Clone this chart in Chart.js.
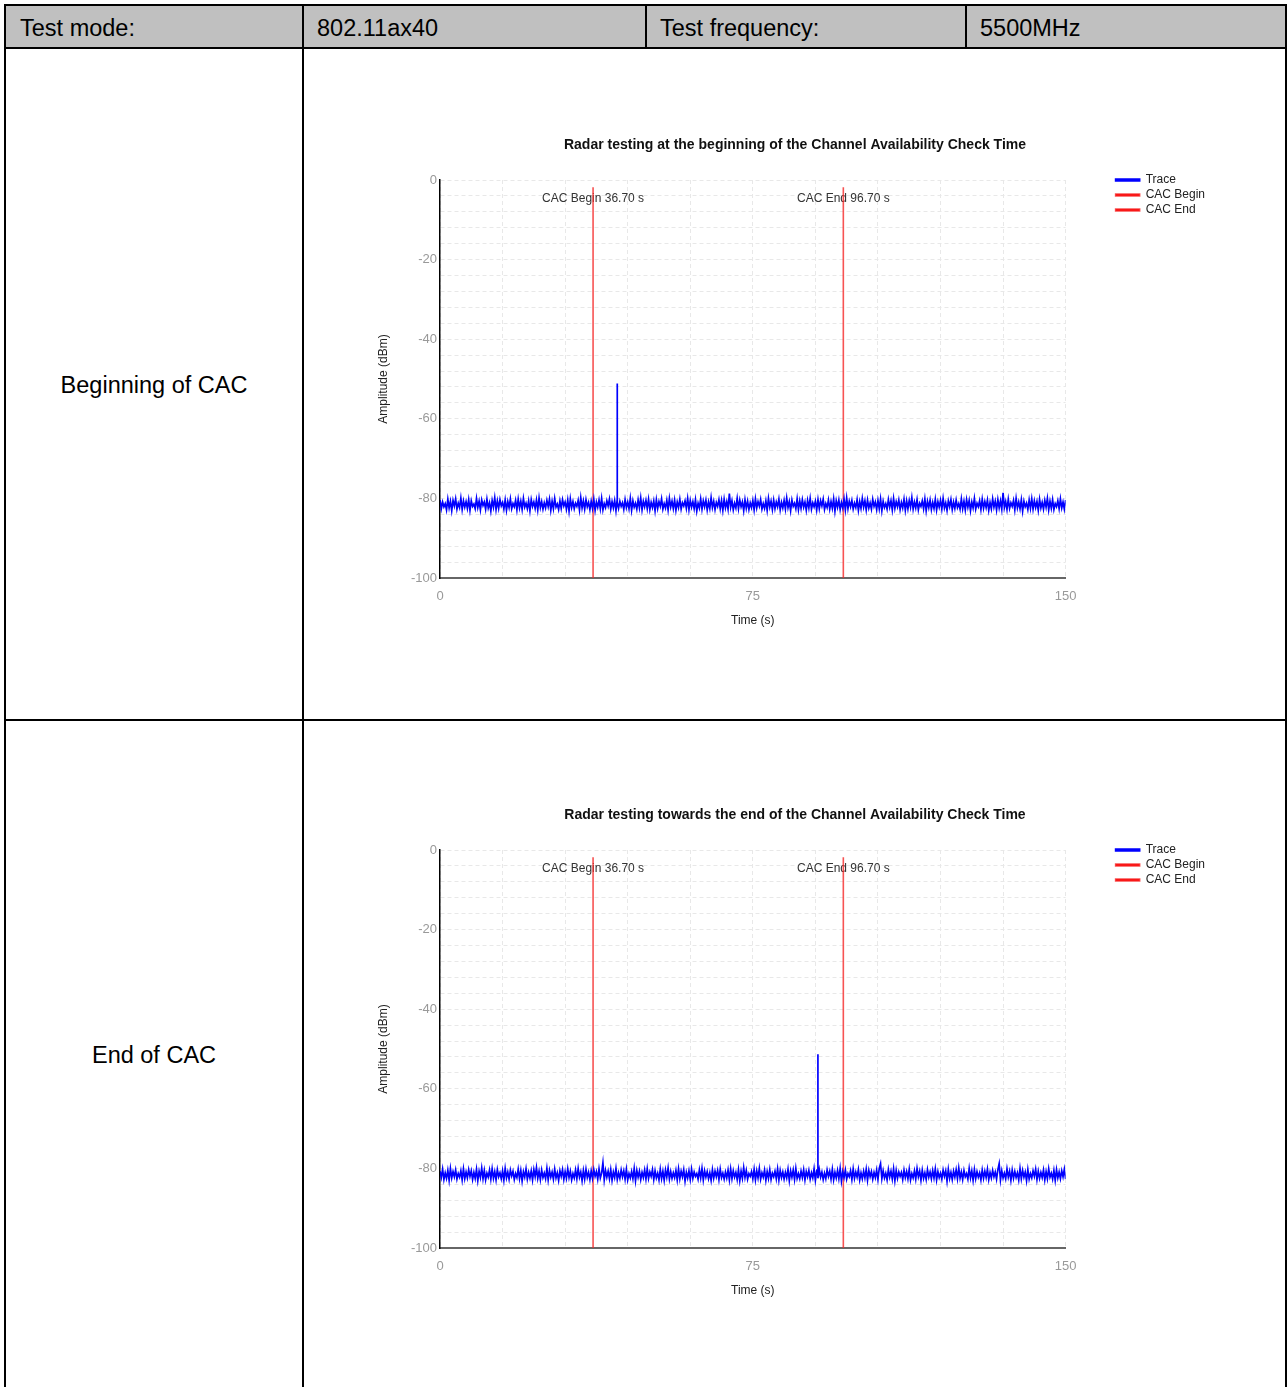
<!DOCTYPE html>
<html lang="en">
<head>
<meta charset="UTF-8">
<script src="https://cdn.jsdelivr.net/npm/chart.js"></script>
<title>CAC radar test</title>
<style>
  html, body { margin: 0; padding: 0; background: #fff; overflow: hidden; }
  body { width: 1287px; height: 1387px; position: relative; font-family: "Liberation Sans", Arial, sans-serif; }
  .hdr { position: absolute; left: 5px; top: 5px; width: 1281px; height: 43px; background: #c0c0c0; }
  .ln { position: absolute; background: #000; }
  .txt { position: absolute; font-size: 23.5px; color: #000; line-height: 28px; white-space: nowrap; }
  .lbl { position: absolute; left: 6px; width: 296px; text-align: center; font-size: 23.5px; line-height: 28px; }
  canvas { position: absolute; left: 305px; }
</style>
</head>
<body>
<div class="hdr"></div>

<canvas id="chartBegin" width="980" height="670" style="top:50px"></canvas>
<canvas id="chartEnd" width="980" height="670" style="top:720px"></canvas>

<!-- table lines -->
<div class="ln" style="left:4px;top:4px;width:1283px;height:2px"></div>
<div class="ln" style="left:4px;top:47px;width:1283px;height:2px"></div>
<div class="ln" style="left:4px;top:719px;width:1283px;height:2px"></div>
<div class="ln" style="left:4px;top:4px;width:2px;height:1400px"></div>
<div class="ln" style="left:302px;top:4px;width:2px;height:1400px"></div>
<div class="ln" style="left:1285px;top:4px;width:2px;height:1400px"></div>
<div class="ln" style="left:645px;top:4px;width:2px;height:45px"></div>
<div class="ln" style="left:965px;top:4px;width:2px;height:45px"></div>

<div class="txt" style="left:20px;top:14px">Test mode:</div>
<div class="txt" style="left:317px;top:14px">802.11ax40</div>
<div class="txt" style="left:660px;top:14px">Test frequency:</div>
<div class="txt" style="left:980px;top:14px">5500MHz</div>

<div class="lbl" style="top:371px">Beginning of CAC</div>
<div class="lbl" style="top:1041px">End of CAC</div>

<script>
// CAC window markers
const cacNames = ['CAC Begin', 'CAC End'];
const cacTimes = [36.70, 96.70];
const cacLineTop = -1.8;

// trace sampling
const traceStep = 0.3125; // seconds between samples
const spikeBase = -81;

// radar burst seen in each run
const spikeTimeBegin = 42.5, spikePeakBegin = -51.1;
const spikeTimeEnd = 90.6, spikePeakEnd = -51.3;

// noise floor (dBm)
const noiseBegin = [
  -80.4,-82.6,-80.9,-82.1,-81.3,-82.9,-80.2,-82.4,-80.7,-83.1,-80.5,-81.9,-80.1,-82.7,-81.2,-82.3,-79.9,-82.8,-80.6,-82.2,
  -80.8,-82.5,-80.3,-83.0,-80.6,-82.0,-81.4,-82.6,-80.0,-82.3,-80.7,-82.9,-80.4,-81.8,-80.9,-82.7,-80.2,-82.4,-81.1,-83.2,
  -80.5,-82.2,-79.8,-82.8,-80.6,-82.5,-80.3,-81.9,-81.0,-82.7,-80.4,-83.0,-80.8,-82.3,-80.1,-82.6,-81.3,-82.1,-80.5,-82.9,
  -80.2,-82.4,-80.7,-82.8,-80.0,-82.2,-81.2,-82.6,-80.6,-83.1,-80.3,-82.0,-80.9,-82.5,-80.4,-82.9,-79.9,-82.3,-80.8,-82.7,
  -81.1,-82.4,-80.5,-82.1,-80.2,-83.0,-80.7,-82.6,-80.0,-82.2,-81.4,-82.8,-80.6,-82.5,-80.3,-81.9,-80.9,-82.7,-80.4,-83.2,
  -80.1,-82.3,-80.8,-82.6,-81.2,-82.0,-80.5,-82.9,-79.8,-82.4,-80.6,-82.7,-80.3,-82.1,-81.0,-82.8,-80.7,-82.5,-80.2,-83.0,
  -80.9,-82.2,-80.4,-82.6,-80.0,-82.9,-81.3,-82.3,-80.6,-81.9,-80.2,-82.7,-80.8,-82.4,-80.5,-83.1,-80.1,-82.5,-80.7,-82.0,
  -81.1,-82.8,-80.3,-82.3,-80.9,-82.6,-80.0,-83.0,-80.6,-82.2,-81.2,-82.7,-80.4,-82.4,-79.9,-82.9,-80.7,-82.1,-80.5,-82.6,
  -80.2,-82.8,-81.0,-82.3,-80.6,-83.1,-80.3,-82.5,-80.8,-82.0,-80.1,-82.7,-81.3,-82.4,-80.5,-82.9,-80.0,-82.2,-80.7,-82.6,
  -80.4,-83.0,-80.9,-82.3,-80.2,-82.7,-81.1,-81.9,-80.6,-82.5,-80.0,-82.8,-80.5,-82.2,-80.8,-82.6,-80.3,-83.2,-81.2,-82.4,
  -80.1,-82.7,-80.6,-82.1,-80.4,-82.9,-80.9,-82.5,-79.8,-82.3,-80.7,-82.8,-81.0,-82.0,-80.3,-82.6,-80.5,-83.0,-80.2,-82.4,
  -80.8,-82.7,-78.8,-82.2,-80.6,-82.9,-81.2,-82.4,-80.0,-82.6,-80.4,-82.1,-80.9,-83.1,-80.3,-82.5,-80.7,-82.8,-81.1,-82.3,
  -80.5,-82.9,-80.1,-82.4,-80.8,-82.0,-80.3,-82.7,-81.3,-82.5,-80.6,-83.0,-80.0,-82.2,-80.7,-82.8,-80.4,-82.6,-80.9,-82.1,
  -80.2,-82.9,-81.0,-82.4,-80.5,-82.7,-79.9,-82.3,-80.8,-83.1,-80.4,-82.0,-81.2,-82.6,-80.1,-82.8,-80.6,-82.5,-80.3,-82.2,
  -80.9,-83.0,-80.5,-82.4,-80.0,-82.7,-81.1,-82.1,-80.7,-82.9,-80.3,-82.6,-80.6,-81.9,-80.2,-82.8,-81.3,-82.3,-80.4,-82.7,
  -80.8,-82.5,-80.1,-83.2,-80.6,-82.2,-80.4,-82.8,-81.0,-82.4,-80.2,-82.9,-79.9,-82.6,-80.7,-82.1,-80.5,-82.7,-81.2,-82.3,
  -80.3,-83.0,-80.8,-82.5,-80.0,-82.2,-80.6,-82.9,-80.4,-82.4,-81.1,-82.7,-80.2,-82.0,-80.9,-82.8,-80.5,-82.6,-80.1,-83.1,
  -80.7,-82.3,-81.3,-82.7,-80.3,-82.2,-80.6,-82.9,-80.0,-82.5,-80.8,-82.1,-80.4,-82.8,-81.0,-82.4,-80.2,-83.0,-80.6,-82.6,
  -80.5,-82.2,-79.8,-82.7,-80.9,-82.4,-80.3,-82.9,-81.2,-82.0,-80.6,-82.6,-80.1,-83.1,-80.7,-82.3,-80.4,-82.8,-81.0,-82.5,
  -80.2,-82.9,-80.8,-82.2,-80.5,-82.7,-80.0,-82.4,-81.1,-83.0,-80.6,-82.1,-80.3,-82.8,-80.9,-82.5,-80.4,-82.3,-81.3,-82.7,
  -80.1,-82.6,-80.7,-82.9,-80.3,-82.2,-80.5,-83.1,-80.9,-82.4,-80.0,-82.7,-81.2,-82.1,-80.6,-82.8,-80.2,-82.5,-80.8,-82.3,
  -80.4,-83.0,-81.0,-82.6,-80.1,-82.2,-80.7,-82.9,-80.3,-82.4,-80.6,-82.7,-78.6,-82.3,-80.8,-82.8,-80.2,-82.5,-81.1,-82.0,
  -80.5,-82.9,-80.0,-82.4,-80.9,-82.6,-80.3,-83.2,-80.7,-82.1,-81.2,-82.8,-80.4,-82.5,-80.1,-82.7,-80.6,-82.3,-80.8,-83.0,
  -80.2,-82.4,-81.0,-82.7,-80.5,-82.2,-80.0,-82.9,-80.7,-82.5,-80.3,-82.8,-81.3,-82.1,-80.6,-82.6,-80.1,-82.4,-80.9,-82.7,
  -80.4
];

// noise floor (dBm)
const noiseEnd = [
  -80.7,-82.3,-80.2,-82.8,-81.1,-82.5,-80.5,-83.0,-80.0,-82.4,-80.8,-82.1,-80.4,-82.7,-81.3,-82.2,-80.6,-82.9,-80.1,-82.6,
  -80.9,-82.4,-80.3,-82.0,-80.6,-82.8,-81.0,-82.5,-80.2,-83.1,-80.7,-82.3,-79.9,-82.6,-80.5,-82.9,-81.2,-82.2,-80.4,-82.7,
  -80.1,-82.5,-80.8,-82.9,-80.3,-82.1,-81.1,-82.6,-80.6,-83.0,-80.0,-82.4,-80.9,-82.7,-80.4,-81.9,-80.7,-82.8,-81.3,-82.3,
  -80.2,-82.6,-80.5,-83.2,-80.8,-82.2,-80.1,-82.7,-81.0,-82.4,-80.6,-82.9,-80.3,-82.1,-79.8,-82.5,-80.7,-82.8,-80.4,-82.3,
  -81.2,-82.6,-80.0,-82.9,-80.5,-82.2,-80.9,-82.7,-80.2,-82.4,-81.1,-83.0,-80.6,-82.0,-80.3,-82.8,-80.8,-82.5,-80.1,-82.3,
  -80.7,-82.9,-81.3,-82.4,-80.4,-82.6,-80.0,-82.2,-80.9,-83.1,-80.5,-82.7,-80.2,-82.3,-81.0,-82.8,-80.6,-82.5,-80.3,-82.0,
  -80.8,-82.7,-80.1,-82.4,-81.2,-78.6,-82.9,-80.5,-82.2,-80.7,-82.6,-80.3,-83.0,-80.9,-82.3,-80.0,-82.8,-81.1,-82.5,-80.4,
  -82.1,-80.6,-82.7,-80.2,-82.9,-81.3,-82.4,-80.8,-82.6,-80.0,-83.1,-80.5,-82.2,-80.7,-82.8,-81.0,-82.3,-80.4,-82.7,-80.1,
  -82.5,-80.9,-82.0,-80.3,-82.8,-80.6,-82.4,-81.2,-82.9,-80.2,-82.6,-80.7,-83.0,-80.4,-82.2,-79.9,-82.7,-80.8,-82.5,-81.1,
  -82.3,-80.5,-82.9,-80.1,-82.6,-80.7,-82.1,-80.3,-83.2,-81.0,-82.4,-80.6,-82.8,-80.2,-82.5,-80.9,-82.0,-81.3,-82.7,-80.4,
  -82.4,-80.0,-82.9,-80.6,-82.2,-80.8,-82.6,-81.1,-83.0,-80.3,-82.5,-80.7,-82.1,-80.5,-82.8,-80.2,-82.3,-81.2,-82.7,-80.9,
  -82.4,-80.4,-82.9,-80.1,-82.6,-80.6,-82.2,-81.0,-82.8,-80.3,-83.1,-80.7,-82.5,-79.8,-82.3,-80.5,-82.7,-81.3,-82.0,-80.8,
  -82.6,-80.2,-82.9,-80.6,-82.4,-80.0,-82.7,-81.1,-82.2,-80.4,-83.0,-80.8,-82.5,-80.3,-82.8,-81.2,-82.1,-80.7,-82.6,-80.1,
  -82.9,-80.5,-82.3,-80.9,-82.7,-81.0,-82.4,-80.2,-83.1,-80.6,-82.2,-80.4,-82.8,-80.0,-82.5,-81.3,-82.6,-80.7,-82.3,-80.3,
  -82.9,-80.8,-82.1,-80.5,-82.7,-81.1,-82.4,-80.1,-83.0,-80.6,-82.5,-80.3,-82.2,-80.9,-82.8,-81.2,-82.6,-80.4,-82.0,-80.7,
  -82.7,-80.2,-82.9,-81.0,-82.4,-80.5,-82.6,-80.0,-83.2,-80.8,-82.3,-80.4,-82.7,-81.3,-82.1,-80.6,-82.8,-80.1,-82.5,-80.9,
  -82.2,-80.3,-82.9,-81.1,-82.6,-80.7,-82.4,-80.2,-83.0,-80.5,-82.1,-80.8,-82.7,-81.0,-82.3,-80.4,-82.8,-80.0,-78.8,-82.6,
  -80.6,-82.4,-81.2,-82.9,-80.3,-82.2,-80.7,-82.7,-80.1,-83.1,-80.5,-82.5,-80.9,-82.0,-81.0,-82.8,-80.4,-82.3,-80.8,-82.6,
  -80.2,-82.9,-81.3,-82.4,-80.6,-82.7,-80.0,-82.1,-80.7,-83.0,-80.4,-82.5,-81.1,-82.8,-80.3,-82.2,-80.9,-82.6,-80.5,-82.4,
  -80.1,-82.9,-80.8,-82.3,-81.2,-82.7,-80.4,-82.0,-80.6,-83.2,-80.2,-82.5,-81.0,-82.8,-80.7,-82.2,-80.3,-82.6,-79.9,-82.4,
  -80.9,-82.8,-80.5,-82.1,-81.3,-82.7,-80.0,-82.4,-80.6,-83.0,-80.3,-82.6,-80.8,-82.2,-81.1,-82.9,-80.4,-82.5,-80.7,-82.3,
  -80.2,-82.8,-81.0,-82.4,-80.5,-82.1,-80.9,-82.7,-80.3,-78.8,-82.9,-80.6,-82.4,-81.2,-82.6,-80.1,-82.2,-80.7,-83.0,-80.4,
  -82.5,-80.8,-82.3,-81.1,-82.9,-80.0,-82.6,-80.5,-82.2,-80.9,-83.1,-80.3,-82.7,-81.3,-82.4,-80.6,-82.0,-80.2,-82.8,-80.7,
  -82.5,-81.0,-82.3,-80.4,-82.9,-80.8,-82.6,-80.1,-82.2,-81.2,-82.7,-80.5,-83.0,-80.3,-82.4,-80.9,-82.6,-80.6,-82.1,-80.2,
  -82.7
];

// axis ticks
const xMin = 0, xMax = 150, xGridStep = 15, xLabelStep = 75;
const yMin = -100, yMax = 0, yGridStep = 4, yLabelStep = 20;

function buildTrace(noise, spikeTime, spikePeak) {
  var pts = [];
  var done = false;
  for (var i = 0; i < noise.length; i++) {
    var t = i * traceStep;
    if (!done && t > spikeTime) {
      pts.push({x: spikeTime, y: spikeBase}, {x: spikeTime, y: spikePeak}, {x: spikeTime, y: spikeBase});
      done = true;
    }
    pts.push({x: t, y: noise[i]});
  }
  return pts;
}

// CAC labels drawn under the marker lines
var cacLabels = {
  id: 'cacLabels',
  beforeDatasetsDraw: function (chart) {
    var ctx = chart.ctx;
    var xs = chart.scales.x, ys = chart.scales.y;
    ctx.save();
    ctx.font = '12px "Liberation Sans", Arial, sans-serif';
    ctx.fillStyle = '#333';
    ctx.textAlign = 'center';
    ctx.textBaseline = 'middle';
    for (var i = 0; i < cacTimes.length; i++) {
      var px = xs.getPixelForValue(cacTimes[i]);
      var py = ys.getPixelForValue(-4.8);
      ctx.fillText(cacNames[i] + ' ' + cacTimes[i].toFixed(2) + ' s', px, py);
    }
    ctx.restore();
  }
};

function makeChart(id, titleText, noise, spikeTime, spikePeak) {
  var ctx = document.getElementById(id).getContext('2d');
  return new Chart(ctx, {
    type: 'line',
    data: {
      datasets: [
        {
          label: 'Trace',
          data: buildTrace(noise, spikeTime, spikePeak),
          borderColor: '#0000ff',
          backgroundColor: '#0000ff',
          borderWidth: 1.7,
          pointRadius: 0,
          tension: 0
        },
        {
          label: cacNames[0],
          data: [{x: cacTimes[0], y: yMin}, {x: cacTimes[0], y: cacLineTop}],
          borderColor: 'rgba(245,40,40,0.8)',
          backgroundColor: '#ff0000',
          borderWidth: 1.6,
          pointRadius: 0
        },
        {
          label: cacNames[1],
          data: [{x: cacTimes[1], y: yMin}, {x: cacTimes[1], y: cacLineTop}],
          borderColor: 'rgba(245,40,40,0.8)',
          backgroundColor: '#ff0000',
          borderWidth: 1.6,
          pointRadius: 0
        }
      ]
    },
    options: {
      responsive: false,
      animation: false,
      devicePixelRatio: 1,
      layout: { padding: { left: 70, right: 70, top: 0, bottom: 0 } },
      plugins: {
        title: {
          display: true,
          text: titleText,
          color: '#111',
          font: { family: '"Liberation Sans", Arial, sans-serif', size: 14, weight: 'bold' },
          padding: { top: 86.4, bottom: 26.8 }
        },
        legend: {
          position: 'right',
          align: 'start',
          title: { display: true, text: ' ', font: { size: 12 }, padding: { top: 106.6, bottom: 0 } },
          labels: {
            boxWidth: 24,
            boxHeight: 2,
            padding: 3,
            color: '#222',
            font: { family: '"Liberation Sans", Arial, sans-serif', size: 12 }
          }
        },
        tooltip: { enabled: false }
      },
      scales: {
        x: {
          type: 'linear',
          min: xMin,
          max: xMax,
          afterFit: function (s) { s.height = 142; },
          ticks: {
            stepSize: xGridStep,
            autoSkip: false,
            maxRotation: 0,
            padding: 11,
            color: '#999',
            font: { family: '"Liberation Sans", Arial, sans-serif', size: 13 },
            callback: function (v) { return v % xLabelStep === 0 ? v : ''; }
          },
          grid: { color: '#e8e8e8', drawTicks: false },
          border: { color: '#666', width: 2, dash: [4, 3] },
          title: {
            display: true,
            text: 'Time (s)',
            color: '#222',
            font: { family: '"Liberation Sans", Arial, sans-serif', size: 12 },
            padding: { top: 0, bottom: 92 }
          }
        },
        y: {
          type: 'linear',
          min: yMin,
          max: yMax,
          afterFit: function (s) { s.width = 65; },
          ticks: {
            stepSize: yGridStep,
            autoSkip: false,
            padding: 3,
            color: '#999',
            font: { family: '"Liberation Sans", Arial, sans-serif', size: 13 },
            callback: function (v) { return v % yLabelStep === 0 ? v : ''; }
          },
          grid: { color: '#e8e8e8', drawTicks: false },
          border: { color: '#000', width: 1.5, dash: [4, 3] },
          title: {
            display: true,
            text: 'Amplitude (dBm)',
            color: '#222',
            font: { family: '"Liberation Sans", Arial, sans-serif', size: 12 },
            padding: { top: 1.8, bottom: 0 }
          }
        },
        yPad: {
          type: 'linear',
          position: 'right',
          afterFit: function (s) { s.width = 47; },
          ticks: { display: false },
          grid: { display: false },
          border: { display: false }
        }
      }
    },
    plugins: [cacLabels]
  });
}

makeChart('chartBegin', 'Radar testing at the beginning of the Channel Availability Check Time', noiseBegin, spikeTimeBegin, spikePeakBegin);
makeChart('chartEnd', 'Radar testing towards the end of the Channel Availability Check Time', noiseEnd, spikeTimeEnd, spikePeakEnd);
</script>
</body>
</html>
